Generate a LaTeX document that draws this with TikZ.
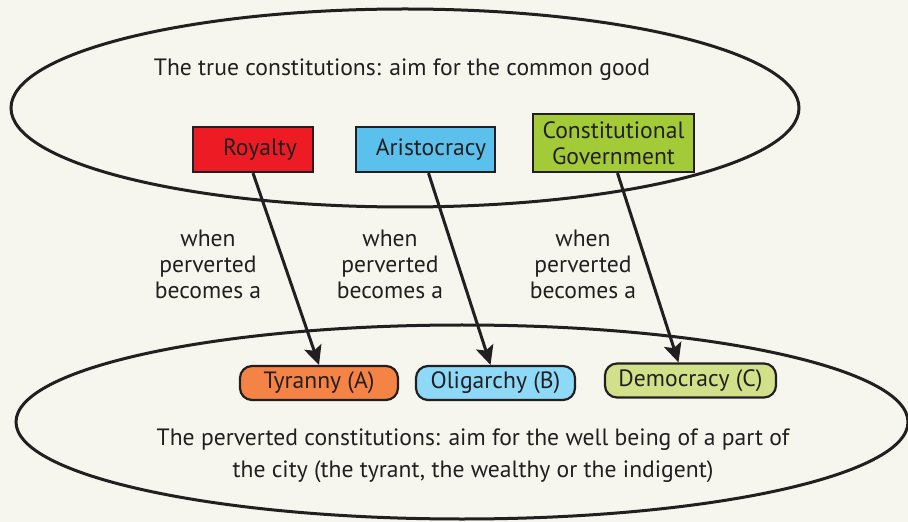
\documentclass[tikz,border=0pt]{standalone}
\usepackage{fontspec}
\setmainfont{PT Sans}
\usetikzlibrary{arrows.meta}
\definecolor{bg}{HTML}{F6F5EE}
\definecolor{ink}{HTML}{231F20}
\definecolor{royalred}{HTML}{ED1C24}
\definecolor{aristblue}{HTML}{5BC0EB}
\definecolor{constgreen}{HTML}{A3CB38}
\definecolor{tyrorange}{HTML}{F58345}
\definecolor{oligblue}{HTML}{8ED8F8}
\definecolor{demogreen}{HTML}{D1E189}
\begin{document}
\begin{tikzpicture}[x=1bp,y=-1bp,
  every node/.style={text=ink, font=\fontsize{23.7}{26}\selectfont},
  truebox/.style={draw=ink, line width=2.2bp, minimum height=45bp, inner sep=0pt},
  badbox/.style={draw=ink, line width=2.2bp, rounded corners=12bp, minimum height=34bp, inner sep=0pt},
  ring/.style={draw=ink, line width=3bp},
  perverts/.style={draw=ink, line width=3bp, -{Stealth[length=19bp,width=18bp,inset=4bp]}},
  note/.style={align=center}
]
% background and page frame
\fill[bg] (0,0) rectangle (908,522);
\useasboundingbox (0,0) rectangle (908,522);

% the two families of constitutions
\draw[ring] (405,108) ellipse [x radius=394bp, y radius=99bp];
\draw[ring] (462,422) ellipse [x radius=446bp, y radius=97bp];

\node (tt) at (402,70) {The true constitutions: aim for the common good};
\node[note, font=\fontsize{23.7}{32}\selectfont] (bt) at (473,456)
  {The perverted constitutions: aim for the well being of a part of\\the city (the tyrant, the wealthy or the indigent)};

% true constitutions
\node[truebox, fill=royalred, minimum width=120bp] (roy) at (253,149.5) {\hspace{14bp}Royalty};
\node[truebox, fill=aristblue, minimum width=139bp] (ari) at (425.5,149.5) {\hspace{11bp}Aristocracy};
\node[truebox, fill=constgreen, minimum width=161bp, minimum height=58bp, align=center] (cg) at (613.5,143) {Constitutional\\Government};

% perverted forms
\node[badbox, fill=tyrorange, minimum width=158bp] (tyr) at (319,383) {Tyranny (A)};
\node[badbox, fill=oligblue, minimum width=159bp] (oli) at (495.5,383) {Oligarchy (B)};
\node[badbox, fill=demogreen, minimum width=171bp] (dem) at (690.5,380.5) {Democracy (C)};

% labels between the rows
\node[note] (w1) at (208,264) {when\\perverted\\becomes a};
\node[note] (w2) at (390,264) {when\\perverted\\becomes a};
\node[note] (w3) at (583,264) {when\\perverted\\becomes a};

% degeneration arrows
\draw[perverts] (roy.south) -- (tyr.north);
\draw[perverts] ([xshift=3bp]ari.south) -- ([xshift=-5bp]oli.north);
\draw[perverts] ([xshift=4bp]cg.south) -- ([xshift=-12bp]dem.north);
\end{tikzpicture}
\end{document}
